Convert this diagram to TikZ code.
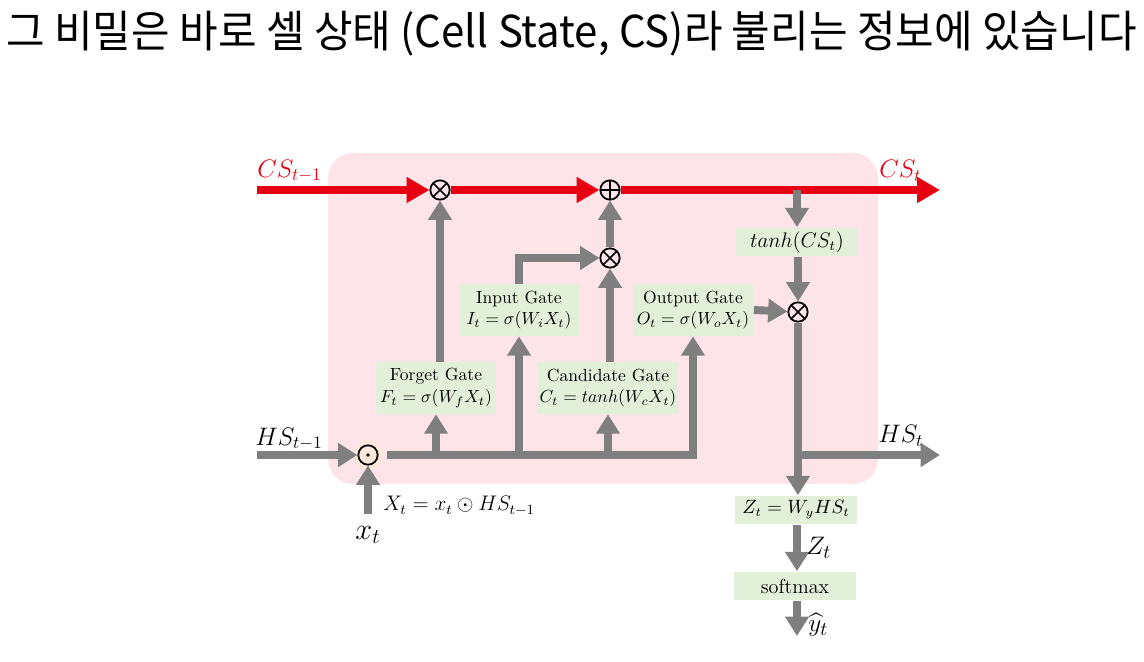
\documentclass[tikz,border=0pt]{standalone}
\usepackage{amsmath}
\usepackage{fontspec}
\newfontfamily\krfont[FakeStretch=0.955]{Noto Sans CJK KR}
\usepackage{tikz}
\usetikzlibrary{positioning, arrows.meta, calc}
\definecolor{csRed}{RGB}{230,0,18}
\definecolor{gGray}{RGB}{127,127,127}
\definecolor{cellPink}{RGB}{253,228,233}
\definecolor{gateGreen}{RGB}{226,240,217}
\definecolor{dotPeach}{RGB}{252,232,218}

\begin{document}
\begin{tikzpicture}[
  x=0.02cm, y=-0.02cm,
  gate/.style={fill=gateGreen, font=\fontsize{10}{12.5}\selectfont, align=center,
               minimum width=2.42cm, minimum height=1.04cm, inner sep=1pt},
  smallbox/.style={fill=gateGreen, font=\fontsize{10.5}{12}\selectfont,
               minimum width=2.44cm, minimum height=0.58cm, inner sep=1pt},
  op/.style={circle, draw, line width=1pt, minimum size=11pt, inner sep=0pt},
  opTimes/.style={op, path picture={\draw[line width=1pt]
      (path picture bounding box.north west) -- (path picture bounding box.south east)
      (path picture bounding box.north east) -- (path picture bounding box.south west);}},
  opPlus/.style={op, path picture={\draw[line width=1pt]
      (path picture bounding box.north) -- (path picture bounding box.south)
      (path picture bounding box.east) -- (path picture bounding box.west);}},
  opDot/.style={op, path picture={\fill (path picture bounding box.center) circle (1.1pt);}},
  gline/.style={draw=gGray, line width=4.5pt},
  garrow/.style={gline, -{Triangle[length=11pt, width=13pt]}},
  rarrow/.style={draw=csRed, line width=5pt, -{Triangle[length=13pt, width=14pt]}},
  lbl/.style={font=\fontsize{14.7}{17}\selectfont, inner sep=0pt},
]
  \useasboundingbox (0,0) rectangle (1144,662);

  \node[font=\krfont\fontsize{25}{30}\selectfont, anchor=west, inner sep=0pt] (title) at (6,34)
    {그 비밀은 바로 셀 상태 (Cell State, CS)라 불리는 정보에 있습니다};

  \fill[cellPink, rounded corners=0.5cm] (328,153) rectangle (878,484);
  \fill[dotPeach] (368,455) circle (0.3cm);

  \node[opTimes] (mulF) at (440,190) {};
  \node[opPlus] (plus) at (610,190) {};
  \node[opTimes] (mulI) at (610,258) {};
  \node[opTimes] (mulO) at (798,312) {};
  \node[opDot] (dot) at (368,455) {};

  \node[gate] (forget) at (436,388) {Forget Gate\\$F_t=\sigma(W_fX_t)$};
  \node[gate] (input) at (519,310) {Input Gate\\$I_t=\sigma(W_iX_t)$};
  \node[gate, minimum width=2.7cm] (cand) at (608,388) {Candidate Gate\\$C_t=tanh(W_cX_t)$};
  \node[gate] (output) at (693,310) {Output Gate\\$O_t=\sigma(W_oX_t)$};
  \node[smallbox, font=\fontsize{12}{14}\selectfont] (tanh) at (797,242) {$tanh(CS_t)$};
  \node[smallbox] (zbox) at (796,510) {$Z_t=W_yHS_t$};
  \node[smallbox, font=\fontsize{11.5}{13}\selectfont] (soft) at (795,586) {softmax};

  \coordinate (csin) at (257,190);
  \coordinate (csout) at (940,190);
  \coordinate (hsin) at (257,455);
  \coordinate (hsout) at (940,455);
  \coordinate (xin) at (368,514);
  \coordinate (yout) at (797,636);

  \draw[rarrow] (csin) -- (mulF);
  \draw[rarrow] (mulF) -- (plus);
  \draw[rarrow] (plus) -- (csout);
  \node[lbl, text=csRed, anchor=west] (csprev) at (257,171) {$CS_{t-1}$};
  \node[lbl, text=csRed, anchor=west] (csnext) at (879,171) {$CS_t$};

  \draw[garrow] (hsin) -- (dot);
  \draw[garrow] (xin) -- (dot);
  \draw[garrow, shorten <=5pt] (dot) -- (output.south |- dot) -- (output.south);
  \draw[garrow] (forget.south |- dot) -- (forget.south);
  \draw[garrow] (input.south |- dot) -- (input.south);
  \draw[garrow] (cand.south |- dot) -- (cand.south);
  \draw[garrow] (forget.north -| mulF) -- (mulF);
  \draw[garrow] (input.north) -- (input.north |- mulI) -- (mulI);
  \draw[garrow] (cand.north -| mulI) -- (mulI);
  \draw[garrow] (mulI) -- (plus);
  \draw[garrow] (tanh.north |- plus) -- (tanh.north);
  \draw[garrow] (tanh.south -| mulO) -- (mulO);
  \draw[garrow] (output.east) -- (mulO);
  \draw[garrow] (mulO) -- (mulO |- zbox.north);
  \draw[garrow] (mulO |- hsout) -- (hsout);
  \draw[garrow] (zbox.south -| yout) -- (soft.north -| yout);
  \draw[garrow] (soft.south -| yout) -- (yout);

  \node[lbl, anchor=west] (hsprev) at (255,439) {$HS_{t-1}$};
  \node[lbl, anchor=west] (hsnext) at (878,436) {$HS_t$};
  \node[lbl, font=\fontsize{17}{19}\selectfont] (xlbl) at (368,535) {$x_t$};
  \node[anchor=west, inner sep=0pt, font=\fontsize{11.6}{13}\selectfont] (xeq) at (383,506)
    {$X_t=x_t\odot HS_{t-1}$};
  \node[lbl, anchor=west, font=\fontsize{15}{17}\selectfont] (zlbl) at (806,548) {$Z_t$};
  \node[lbl, anchor=west, font=\fontsize{15}{17}\selectfont] (ylbl) at (808,625) {$\widehat{y}_t$};
\end{tikzpicture}
\end{document}
